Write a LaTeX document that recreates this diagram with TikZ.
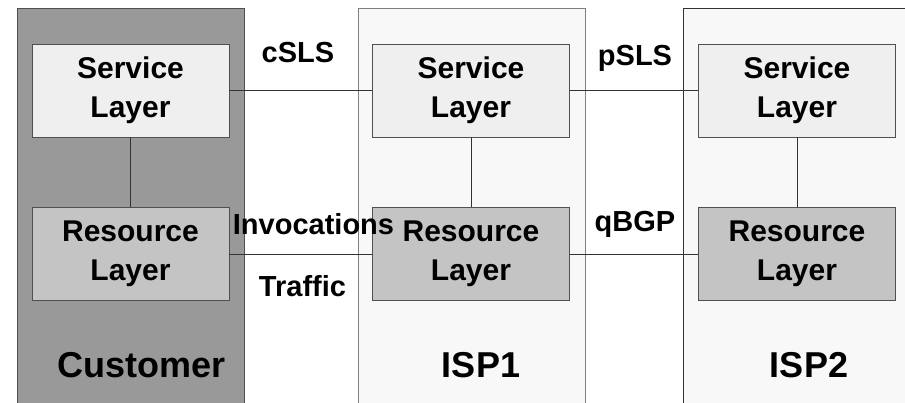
\documentclass[tikz,border=0pt]{standalone}
\usepackage{fontspec}
\setmainfont{Liberation Sans}
\usepackage{xcolor}
\usepackage{tikz}
\definecolor{custgray}{HTML}{999999}
\definecolor{svcgray}{HTML}{EFEFEF}
\definecolor{resgray}{HTML}{C4C4C4}
\definecolor{ispgray}{HTML}{F8F8F8}
\definecolor{edgegray}{HTML}{505050}

\begin{document}
\begin{tikzpicture}[x=1pt,y=-1pt,
    layer/.style={draw=edgegray, minimum width=197pt, minimum height=93pt,
      align=center, inner sep=0pt, font=\fontsize{30}{39}\selectfont\bfseries},
    service/.style={layer, fill=svcgray},
    resource/.style={layer, fill=resgray},
    tag/.style={anchor=base, inner sep=0pt, font=\fontsize{29}{35}\selectfont\bfseries},
    domainname/.style={anchor=base, inner sep=0pt, font=\fontsize{36}{40}\selectfont\bfseries}]
    \useasboundingbox (0,0) rectangle (905,403);
    \clip (0,0) rectangle (905,403);
    % domains
    \draw [draw=edgegray, fill=custgray] (17,8) rectangle (244,420);
    \draw [draw=gray, fill=ispgray] (358,8) rectangle (585,420);
    \draw [draw=black!80, fill=ispgray] (683,8) rectangle (920,420);
    % layers
    \node [service]  (custsvc) at (130.5,90.5) {Service\\Layer};
    \node [resource] (custres) at (130.5,254)  {Resource\\Layer};
    \node [service]  (isp1svc) at (471,90.5)   {Service\\Layer};
    \node [resource] (isp1res) at (471,254)    {Resource\\Layer};
    \node [service]  (isp2svc) at (797,90.5)   {Service\\Layer};
    \node [resource] (isp2res) at (797,254)    {Resource\\Layer};
    % links
    \draw [black!80] (custsvc) -- (custres);
    \draw [black!80] (isp1svc) -- (isp1res);
    \draw [black!80] (isp2svc) -- (isp2res);
    \draw [black!80] (custsvc.east) -- (isp1svc.west);
    \draw [black!80] (isp1svc.east) -- (isp2svc.west);
    \draw [black!80] (custres.east) -- (isp1res.west);
    \draw [black!80] (isp1res.east) -- (isp2res.west);
    % labels
    \node [tag] (csls)    at (298,63)    {cSLS};
    \node [tag] (psls)    at (635,66)    {pSLS};
    \node [tag] (qbgp)    at (635,232)   {qBGP};
    \node [tag] (invoc)   at (313.5,235) {Invocations};
    \node [tag] (traffic) at (302.5,297) {Traffic};
    \node [domainname] (cust) at (141.5,377) {Customer};
    \node [domainname] (isp1) at (481,377)   {ISP1};
    \node [domainname] (isp2) at (809,377)   {ISP2};
\end{tikzpicture}
\end{document}
